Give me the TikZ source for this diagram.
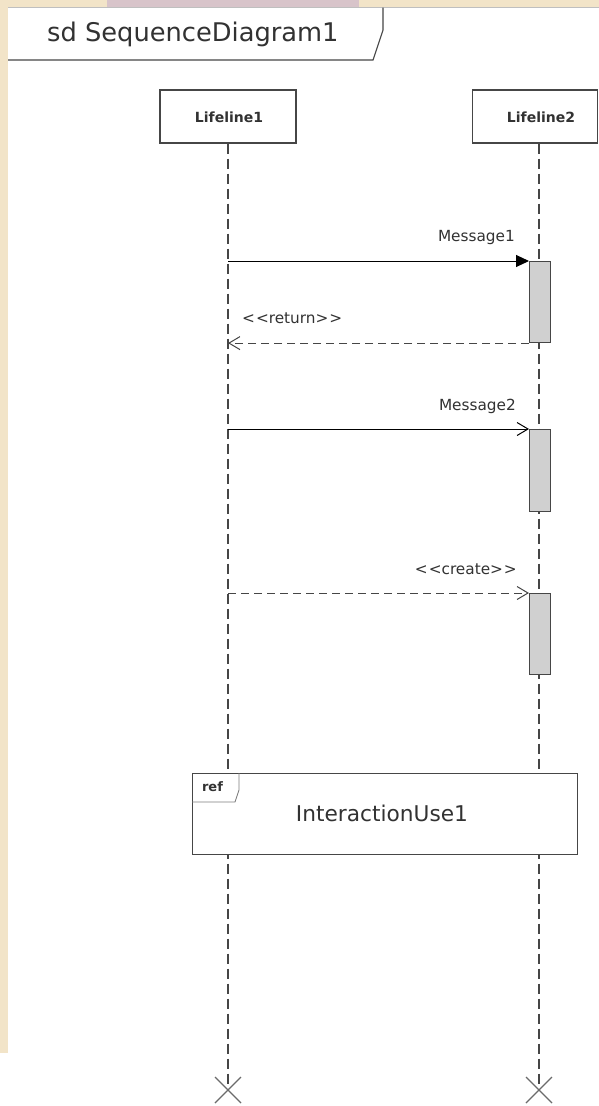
\documentclass[tikz,border=0pt]{standalone}
\usepackage{fontspec}
\usetikzlibrary{arrows.meta,calc}
\newfontfamily\dvs{DejaVu Sans}
\definecolor{beige}{RGB}{242,228,200}
\definecolor{pinkish}{RGB}{216,196,202}
\definecolor{ink}{RGB}{50,50,50}
\definecolor{edge}{RGB}{70,70,70}
\definecolor{actfill}{RGB}{208,208,208}
\begin{document}
\begin{tikzpicture}[x=1pt,y=-1pt,
  llbox/.style={draw=edge,line width=1.2pt,fill=white,inner sep=0pt,minimum height=53pt},
  lltext/.style={font=\dvs\bfseries\fontsize{14}{16}\selectfont,text=ink,inner sep=0pt},
  lifeline/.style={draw=edge,line width=1.1pt,dash pattern=on 10pt off 5pt},
  act/.style={draw=edge,line width=1.1pt,fill=actfill,inner sep=0pt,minimum width=21pt},
  msg/.style={draw=black,line width=1pt},
  ret/.style={draw=edge,line width=1pt,dash pattern=on 8pt off 5pt},
  mlabel/.style={font=\dvs\fontsize{15.3}{18}\selectfont,text=ink,inner sep=0pt},
  filledtip/.style={-{Triangle[length=13pt,width=12pt]}},
  opentip/.style={-{Straight Barb[length=11pt,width=13pt,line width=1pt]}},
  destroy/.style={draw=edge!80,line width=1.2pt}
]
\useasboundingbox (0,0) rectangle (599,1106);
% backgrounds
\fill[white] (0,0) rectangle (599,1106);
\fill[beige] (0,0) rectangle (599,6.5);
\fill[pinkish] (107,0) rectangle (359,6.5);
\fill[beige] (0,0) rectangle (8,1053);
% frame top edge and tab
\draw[gray!50,line width=1pt] (8,7.5) -- (599,7.5);
\draw[edge,line width=1.1pt] (8,60) -- (373,60) -- (383,30) -- (383,7.5);
\node[font=\dvs\fontsize{25.7}{30}\selectfont,text=ink,anchor=west,inner sep=0pt] (title) at (47,34) {sd SequenceDiagram1};
% lifeline heads
\node[llbox,minimum width=136pt] (L1) at (228,116.5) {};
\node[lltext] (L1t) at (229,117) {Lifeline1};
\node[llbox,minimum width=125pt,anchor=west] (L2) at (472,116.5) {};
\node[lltext] (L2t) at (541,117) {Lifeline2};
% end points of lifelines
\coordinate (E1) at (228,1090);
\coordinate (E2) at (539,1090);
\draw[lifeline] (L1.south -| E1) -- (E1);
\draw[lifeline] (L2.south -| E2) -- (E2);
% activations
\node[act,minimum height=81pt,anchor=north west] (A1) at (529,261) {};
\node[act,minimum height=82pt,anchor=north west] (A2) at (529,429) {};
\node[act,minimum height=81pt,anchor=north west] (A3) at (529,593) {};
% messages
\draw[msg,filledtip] (E1 |- A1.north west) -- (A1.north west);
\node[mlabel,anchor=east] (m1) at (515,238) {Message1};
\draw[ret,opentip] (A1.south west) -- (E1 |- A1.south west);
\node[mlabel,anchor=west] (r1) at (242,318) {<\kern1pt<return>\kern1pt>};
\draw[msg,opentip] (E1 |- A2.north west) -- (A2.north west);
\node[mlabel,anchor=east] (m2) at (516,406) {Message2};
\draw[ret,opentip] (E1 |- A3.north west) -- (A3.north west);
\node[mlabel,anchor=east] (c1) at (517,569) {<\kern1pt<create>\kern1pt>};
% interaction use
\node[draw=edge,line width=1.2pt,fill=white,minimum width=385pt,minimum height=81pt,anchor=north west,inner sep=0pt] (R) at (192,773) {};
\draw[edge!70,line width=0.9pt] (R.north west) ++(0,29) -- ++(43,0) -- ++(4,-12) -- ++(0,-17);
\node[font=\dvs\bfseries\fontsize{13}{15}\selectfont,text=ink,inner sep=0pt] (reft) at (212.5,787) {ref};
\node[font=\dvs\fontsize{21.7}{25}\selectfont,text=ink,inner sep=0pt] (Rt) at (382,813) {InteractionUse1};
% destruction marks
\draw[destroy] ($(E1)+(-13,-13)$) -- ($(E1)+(13,13)$) ($(E1)+(-13,13)$) -- ($(E1)+(13,-13)$);
\draw[destroy] ($(E2)+(-13,-13)$) -- ($(E2)+(13,13)$) ($(E2)+(-13,13)$) -- ($(E2)+(13,-13)$);
\end{tikzpicture}
\end{document}
